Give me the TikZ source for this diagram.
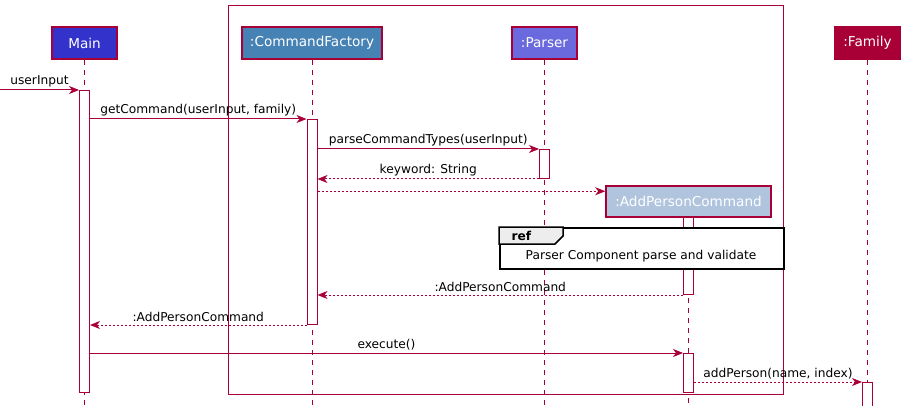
\documentclass[tikz,border=0pt]{standalone}
\usepackage{fontspec}
\setmainfont{DejaVu Sans}
\usepackage{tikz}
\usetikzlibrary{arrows.meta,positioning,calc}
\definecolor{umlred}{HTML}{A80036}
\definecolor{mainblue}{RGB}{51,51,204}
\definecolor{facblue}{HTML}{4682B4}
\definecolor{parblue}{RGB}{106,106,222}
\definecolor{apcblue}{HTML}{B0C4DE}
\tikzstyle{part} = [rectangle, draw=umlred, line width=1.5pt, text=white, minimum height=32pt, inner sep=0pt, font=\fontsize{13.6}{16}\selectfont]
\tikzstyle{act} = [rectangle, draw=umlred, line width=1pt, fill=white, minimum width=10pt, inner sep=0pt, anchor=north]
\tikzstyle{life} = [umlred, line width=1pt, dash pattern=on 5pt off 5pt]
\tikzstyle{msg} = [umlred, line width=1pt, -{Stealth[length=10pt,width=8pt,inset=3pt]}]
\tikzstyle{ret} = [msg, dash pattern=on 2pt off 2pt]
\tikzstyle{lbl} = [text=black, midway, above, inner sep=2.5pt, font=\fontsize{12.2}{14}\selectfont]

\begin{document}
\begin{tikzpicture}[x=1pt,y=-1pt]
\useasboundingbox (0,0) rectangle (904,406);
% box round the factory part
\draw [umlred, line width=1pt] (228,6) rectangle (783,394);
% participants
\node (main) [part, fill=mainblue, minimum width=65pt] at (84.5,43) {Main};
\node (fac) [part, fill=facblue, minimum width=140pt] at (312,43) {:CommandFactory};
\node (parser) [part, fill=parblue, minimum width=65pt] at (544.5,43) {:Parser};
\node (fam) [part, fill=umlred, minimum width=65pt] at (867.5,43) {:Family};
\node (apc) [part, fill=apcblue, minimum width=165pt, minimum height=31pt] at (688.5,201.5) {:AddPersonCommand};
% lifelines
\draw [life] (main.south) -- ++(0,350);
\draw [life] (fac.south) -- ++(0,350);
\draw [life] (parser.south) -- ++(0,350);
\draw [life] (fam.south) -- ++(0,350);
\draw [life] (apc.south) -- ++(0,190);
% activations
\node (actMain) [act, minimum height=302pt] at (84.5,90) {};
\node (actFac) [act, minimum height=205pt] at (312,119) {};
\node (actPar) [act, minimum height=29pt] at (544.5,149) {};
\node (actApcA) [act, minimum height=77pt] at (688.5,217) {};
\node (actApcB) [act, minimum height=39pt] at (688.5,353) {};
\node (actFam) [act, minimum height=30pt] at (867.5,382) {};
% ref frame
\node (ref) [draw=black, line width=1.5pt, fill=white, minimum width=284pt, minimum height=41pt, inner sep=0pt, anchor=north west] at (499,227) {};
\draw [black, line width=1.5pt, fill=black!7] (ref.north west) -- (563,227) -- (563,236) -- (555,244) -- (499,244) -- cycle;
\node (reftag) [font=\bfseries\fontsize{12.2}{14}\selectfont, anchor=west] at (508,235.5) {ref};
\node (reftxt) [font=\fontsize{12.2}{14}\selectfont] at (641,256.5) {Parser Component parse and validate};
% messages
\coordinate (in) at (0,90);
\coordinate (apcin) at ([yshift=-6pt]apc.north west);
\draw [msg] (in) -- (actMain.north west) node[lbl] {userInput};
\draw [msg] (actMain.east |- actFac.north) -- (actFac.north west) node[lbl] {getCommand(userInput, family)};
\draw [msg] (actFac.east |- actPar.north) -- (actPar.north west) node[lbl] {parseCommandTypes(userInput)};
\draw [ret] (actPar.south west) -- (actFac.east |- actPar.south) node[lbl] {keyword: String};
\draw [ret] (actFac.east |- apcin) -- (apcin);
\draw [ret] (actApcA.south west) -- (actFac.east |- actApcA.south) node[lbl] {:AddPersonCommand};
\draw [ret] (actFac.south west) -- (actMain.east |- actFac.south) node[lbl] {:AddPersonCommand};
\draw [msg] (actMain.east |- actApcB.north) -- (actApcB.north west) node[lbl] {execute()};
\draw [ret] (actApcB.east |- actFam.north) -- (actFam.north west) node[lbl] {addPerson(name, index)};
\end{tikzpicture}
\end{document}
